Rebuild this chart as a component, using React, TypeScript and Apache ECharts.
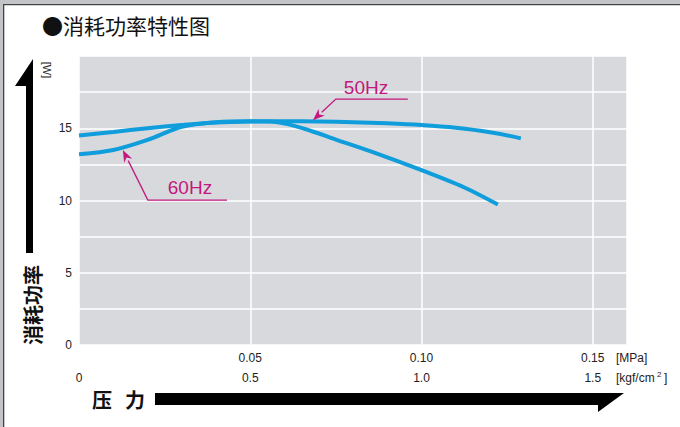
import React, { useEffect, useRef } from "react";
import * as echarts from "echarts";

// Pressure [MPa] vs consumed power [W]
const series50Hz: [number, number][] = [
  [0, 14.5], [0.01, 14.74], [0.02, 15.0], [0.03, 15.22], [0.04, 15.4], [0.05, 15.47],
  [0.06, 15.48], [0.07, 15.47], [0.08, 15.42], [0.09, 15.34], [0.1, 15.22],
  [0.11, 15.03], [0.12, 14.72], [0.129, 14.3],
];
const series60Hz: [number, number][] = [
  [0, 13.2], [0.01, 13.5], [0.02, 14.2], [0.03, 15.1], [0.04, 15.42], [0.05, 15.48],
  [0.058, 15.42], [0.066, 14.95], [0.075, 14.22], [0.085, 13.42], [0.1, 12.1],
  [0.1125, 10.9], [0.1223, 9.72],
];
const xTickValues = [0, 0.05, 0.1, 0.15];
const mpaTickLabels = ["", "0.05", "0.10", "0.15"];
const kgfTickLabels = ["0", "0.5", "1.0", "1.5"];
const yTickLabels = [0, 5, 10, 15];

// annotation anchors in data coordinates: tip, elbow, line end, text
const ann50 = { label: "50Hz", tip: [0.0683, 15.55], elbow: [0.075, 17.02], end: [0.096, 17.02], text: [0.0838, 17.8] };
const ann60 = { label: "60Hz", tip: [0.0128, 13.5], elbow: [0.0201, 10.03], end: [0.0432, 10.03], text: [0.0324, 10.87] };

const BLUE = "#0f9ddb";
const MAGENTA = "#c2187f";
const FONT = "'Liberation Sans', Arial, sans-serif";
const CJK = "'Noto Sans CJK SC', sans-serif";

export default function App() {
  const ref = useRef<HTMLDivElement>(null);
  useEffect(() => {
    if (!ref.current) return;
    const chart = echarts.init(ref.current, null, { renderer: "svg" });
    const option: any = {
      animation: false,
      backgroundColor: "#ffffff",
      grid: { left: 79, top: 56, width: 548, height: 289, show: true, backgroundColor: "#d8d9dd", borderWidth: 0 },
      xAxis: {
        type: "value", min: 0, max: 0.16, interval: 0.05,
        axisLine: { show: false }, axisTick: { show: false },
        splitLine: { show: true, lineStyle: { color: "#ffffff", width: 1.5 } },
        axisLabel: {
          margin: 3,
          color: "#222",
          fontFamily: FONT,
          fontSize: 12,
          lineHeight: 20,
          showMaxLabel: false,
          formatter: (v: number) => {
            const i = xTickValues.findIndex((t) => Math.abs(t - v) < 1e-6);
            if (i < 0) return "";
            return (mpaTickLabels[i] || " ") + "\n" + kgfTickLabels[i];
          },
        },
      },
      yAxis: {
        type: "value", min: 0, max: 20, interval: 2.5,
        axisLine: { show: false }, axisTick: { show: false },
        splitLine: { show: true, lineStyle: { color: "#ffffff", width: 1.5 } },
        axisLabel: {
          margin: 7, color: "#222", fontFamily: FONT, fontSize: 12,
          formatter: (v: number) => (yTickLabels.indexOf(v) >= 0 ? String(v) : ""),
        },
      },
      series: [
        { name: "50Hz", type: "line", data: series50Hz, smooth: 0.3, showSymbol: false, lineStyle: { color: BLUE, width: 4 }, z: 3 },
        { name: "60Hz", type: "line", data: series60Hz, smooth: 0.3, showSymbol: false, lineStyle: { color: BLUE, width: 4 }, z: 3 },
      ],
    };
    chart.setOption(option);

    const px = (p: number[]) => chart.convertToPixel({ gridIndex: 0 }, p) as number[];
    const annGraphics = (a: typeof ann50) => {
      const t = px(a.tip), e = px(a.elbow), en = px(a.end), tx = px(a.text);
      const dx = t[0] - e[0], dy = t[1] - e[1];
      const len = Math.hypot(dx, dy);
      const ux = dx / len, uy = dy / len;
      const hl = 12, hw = 4.5;
      const bx = t[0] - ux * hl, by = t[1] - uy * hl;
      return [
        { type: "polyline", shape: { points: [[en[0], en[1]], [e[0], e[1]], [bx, by]] }, style: { stroke: MAGENTA, lineWidth: 1.3, fill: null }, z: 10 },
        { type: "polygon", shape: { points: [[t[0], t[1]], [bx - uy * hw, by + ux * hw], [t[0] - ux * hl * 0.7, t[1] - uy * hl * 0.7], [bx + uy * hw, by - ux * hw]] }, style: { fill: MAGENTA }, z: 10 },
        { type: "text", x: tx[0], y: tx[1], style: { text: a.label, fill: MAGENTA, font: `19px ${FONT}`, align: "center", verticalAlign: "middle" }, z: 10 },
      ];
    };

    chart.setOption({
      graphic: [
        // page frame
        { type: "rect", shape: { x: 0, y: 0, width: 680, height: 4 }, style: { fill: "#c3c4c8" } },
        { type: "rect", shape: { x: 0, y: 0, width: 3, height: 427 }, style: { fill: "#c3c4c8" } },
        { type: "rect", shape: { x: 3, y: 4, width: 677, height: 1.3 }, style: { fill: "#444" } },
        { type: "rect", shape: { x: 3, y: 4, width: 1.3, height: 423 }, style: { fill: "#444" } },
        // title
        { type: "text", x: 42, y: 25, style: { text: "●消耗功率特性图", fill: "#111", font: `21px ${CJK}`, verticalAlign: "middle" } },
        // y axis arrow
        { type: "polygon", shape: { points: [[33, 59], [33, 253], [26, 253], [26, 86], [15, 86]] }, style: { fill: "#000" } },
        { type: "text", x: 32, y: 305, rotation: Math.PI / 2, style: { text: "消耗功率", fill: "#111", font: `bold 20px ${CJK}`, align: "center", verticalAlign: "middle" } },
        { type: "text", x: 47, y: 70, rotation: -Math.PI / 2, style: { text: "[W]", fill: "#222", font: `11px ${FONT}`, align: "center", verticalAlign: "middle" } },
        // x axis arrow
        { type: "polygon", shape: { points: [[155, 393], [624, 393], [598, 412], [598, 405], [155, 405]] }, style: { fill: "#000" } },
        { type: "text", x: 102, y: 399, style: { text: "压", fill: "#111", font: `bold 20px ${CJK}`, align: "center", verticalAlign: "middle" } },
        { type: "text", x: 135, y: 399, style: { text: "力", fill: "#111", font: `bold 20px ${CJK}`, align: "center", verticalAlign: "middle" } },
        // units
        { type: "text", x: 616, y: 358, style: { text: "[MPa]", fill: "#222", font: `12px ${FONT}`, verticalAlign: "middle" } },
        { type: "text", x: 616, y: 378, style: { text: "[kgf/cm", fill: "#222", font: `12px ${FONT}`, verticalAlign: "middle" } },
        { type: "text", x: 657, y: 374, style: { text: "2", fill: "#222", font: `8px ${FONT}`, verticalAlign: "middle" } },
        { type: "text", x: 664, y: 378, style: { text: "]", fill: "#222", font: `12px ${FONT}`, verticalAlign: "middle" } },
        ...annGraphics(ann50),
        ...annGraphics(ann60),
      ],
    });
    return () => chart.dispose();
  }, []);
  return <div ref={ref} style={{ position: "fixed", left: 0, top: 0, width: 680, height: 427 }} />;
}
